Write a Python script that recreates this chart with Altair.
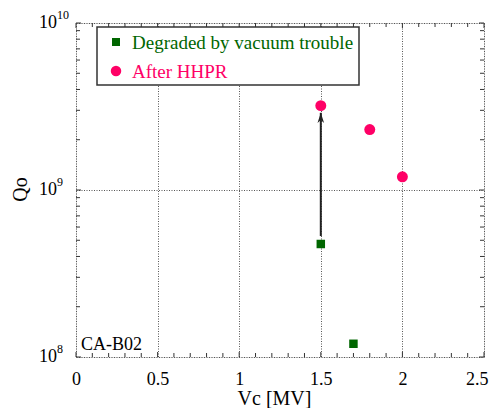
import altair as alt
import pandas as pd

# ---- data ----
series = ["Degraded by vacuum trouble", "After HHPR"]
colors = ["#006600", "#ff0066"]
shapes = ["square", "circle"]
sizes = [72, 120]
legend_sizes = [64, 110]

deg_vc = [1.5, 1.7]
deg_q0 = [4.75e8, 1.2e8]
hhpr_vc = [1.5, 1.8, 2.0]
hhpr_q0 = [3.2e9, 2.3e9, 1.2e9]

arrow_vc = [1.5]
arrow_from = [5.3e8]
arrow_to = [2.9e9]

x_major = [0, 0.5, 1, 1.5, 2, 2.5]
x_minor = [0.1, 0.2, 0.3, 0.4, 0.6, 0.7, 0.8, 0.9, 1.1, 1.2, 1.3, 1.4,
           1.6, 1.7, 1.8, 1.9, 2.1, 2.2, 2.3, 2.4]
y_major = [1e8, 1e9, 1e10]
y_minor = [2e8, 3e8, 4e8, 5e8, 6e8, 7e8, 8e8, 9e8,
           2e9, 3e9, 4e9, 5e9, 6e9, 7e9, 8e9, 9e9]
y_exponents = ["8", "9", "10"]
note = "CA-B02"

W, H = 408, 334
FONT = "Liberation Serif"

pts = pd.DataFrame({
    "Vc": deg_vc + hhpr_vc,
    "Q0": deg_q0 + hhpr_q0,
    "series": [series[0]] * len(deg_vc) + [series[1]] * len(hhpr_vc),
})

xs = alt.Scale(domain=[0, 2.5], nice=False, zero=False)
ys = alt.Scale(type="log", domain=[1e8, 1e10], nice=False)

xaxis = alt.Axis(values=x_major, grid=True, gridDash=[1, 1.5], gridColor="#555",
                 gridWidth=1, ticks=False, domain=False, labelFont=FONT,
                 labelFontSize=18, labelColor="#000", labelPadding=27,
                 labelBaseline="alphabetic", labelFlush=False,
                 labelAlign={"condition": {"test": "datum.value == 2.5", "value": "right"},
                             "value": "center"},
                 labelOffset={"condition": {"test": "datum.value == 2.5", "value": 4},
                              "value": 0},
                 labelExpr="datum.value",
                 title="Vc [MV]", titleFont=FONT, titleFontSize=20,
                 titleFontWeight="normal", titleColor="#000",
                 titleX=198, titleY=47, titleBaseline="alphabetic",
                 titleAnchor="start", titleAlign="center")
yaxis = alt.Axis(values=y_major, grid=True, gridDash=[1, 1.5], gridColor="#555",
                 gridWidth=1, ticks=False, domain=False, labels=False,
                 title="Qo", titleFont=FONT, titleFontSize=20,
                 titleFontWeight="normal", titleColor="#000",
                 titleX=-56, titleY=166, titleAngle=-90,
                 titleBaseline="middle", titleAlign="center")

color_scale = alt.Scale(domain=series, range=colors)
shape_scale = alt.Scale(domain=series, range=shapes)

points = alt.Chart(pts).mark_point(filled=True, opacity=1).encode(
    x=alt.X("Vc:Q", scale=xs, axis=xaxis),
    y=alt.Y("Q0:Q", scale=ys, axis=yaxis),
    color=alt.Color("series:N", scale=color_scale, legend=None),
    shape=alt.Shape("series:N", scale=shape_scale, legend=None),
    size=alt.Size("series:N", scale=alt.Scale(domain=series, range=sizes), legend=None),
)

arr = pd.DataFrame({"Vc": arrow_vc, "a": arrow_from, "b": arrow_to})
arrow_line = alt.Chart(arr).mark_rule(color="#222", strokeWidth=2).encode(
    x=alt.X("Vc:Q", scale=xs), y=alt.Y("a:Q", scale=ys), y2=alt.Y2("b:Q"))
arrow_head = alt.Chart(arr).mark_point(
    shape="M0,0 L-0.55,1.7 L0,1.2 L0.55,1.7 Z", filled=True, color="#222",
    size=144, opacity=1).encode(
    x=alt.X("Vc:Q", scale=xs), y=alt.Y("b:Q", scale=ys))

# ---- inward tick marks on all four sides ----
def xticks(vals, ln):
    d = pd.DataFrame({"v": vals})
    b = alt.Chart(d).mark_rule(color="#333", strokeWidth=1)
    return [b.encode(x=alt.X("v:Q", scale=xs), y=alt.value(H), y2=alt.value(H - ln)),
            b.encode(x=alt.X("v:Q", scale=xs), y=alt.value(0), y2=alt.value(ln))]

def yticks(vals, ln):
    d = pd.DataFrame({"v": vals})
    b = alt.Chart(d).mark_rule(color="#333", strokeWidth=1)
    return [b.encode(y=alt.Y("v:Q", scale=ys), x=alt.value(0), x2=alt.value(ln)),
            b.encode(y=alt.Y("v:Q", scale=ys), x=alt.value(W), x2=alt.value(W - ln))]

ticks = xticks(x_minor, 4) + xticks(x_major, 5) + yticks(y_minor, 4) + yticks(y_major, 5)

# ---- y tick labels 10^n ----
ylab = pd.DataFrame({"v": y_major, "e": y_exponents})
ybase = alt.Chart(ylab).mark_text(font=FONT, fontSize=18, align="right",
                                  baseline="alphabetic", dy=5, color="#000").encode(
    y=alt.Y("v:Q", scale=ys), x=alt.value(-19), text=alt.value("10"))
yexp = alt.Chart(ylab).mark_text(font=FONT, fontSize=12, align="left",
                                 baseline="alphabetic", dy=-4, color="#000").encode(
    y=alt.Y("v:Q", scale=ys), x=alt.value(-19), text="e:N")

# ---- note ----
note_df = pd.DataFrame({"t": [note]})
note_txt = alt.Chart(note_df).mark_text(font=FONT, fontSize=18, align="left",
                                        baseline="alphabetic", color="#000").encode(
    x=alt.value(5), y=alt.value(H - 7), text="t:N")

# ---- legend box ----
box = alt.Chart(pd.DataFrame({"k": [0]})).mark_rect(
    fill="white", stroke="#333", strokeWidth=1.5).encode(
    x=alt.value(21), x2=alt.value(283), y=alt.value(4), y2=alt.value(62))

legend_layers = []
for i, s in enumerate(series):
    d = pd.DataFrame({"series": [s]})
    legend_layers.append(
        alt.Chart(d).mark_point(filled=True, opacity=1, shape=shapes[i],
                                size=legend_sizes[i], color=colors[i]).encode(
            x=alt.value(40), y=alt.value(19 + 29 * i)))
    legend_layers.append(
        alt.Chart(d).mark_text(font=FONT, fontSize=19, align="left",
                               baseline="middle", color=colors[i]).encode(
            x=alt.value(56), y=alt.value(20 + 29 * i), text="series:N"))

chart = alt.layer(
    points, arrow_line, arrow_head, *ticks, ybase, yexp, note_txt, box, *legend_layers
).properties(
    width=W, height=H,
    autosize=alt.AutoSizeParams(type="none"),
    padding={"left": 68, "top": 15, "right": 5, "bottom": 51},
).configure_view(stroke="#333", strokeWidth=1.5).configure(background="white")

chart.save("out.html", embed_options={"renderer": "svg", "actions": False})
